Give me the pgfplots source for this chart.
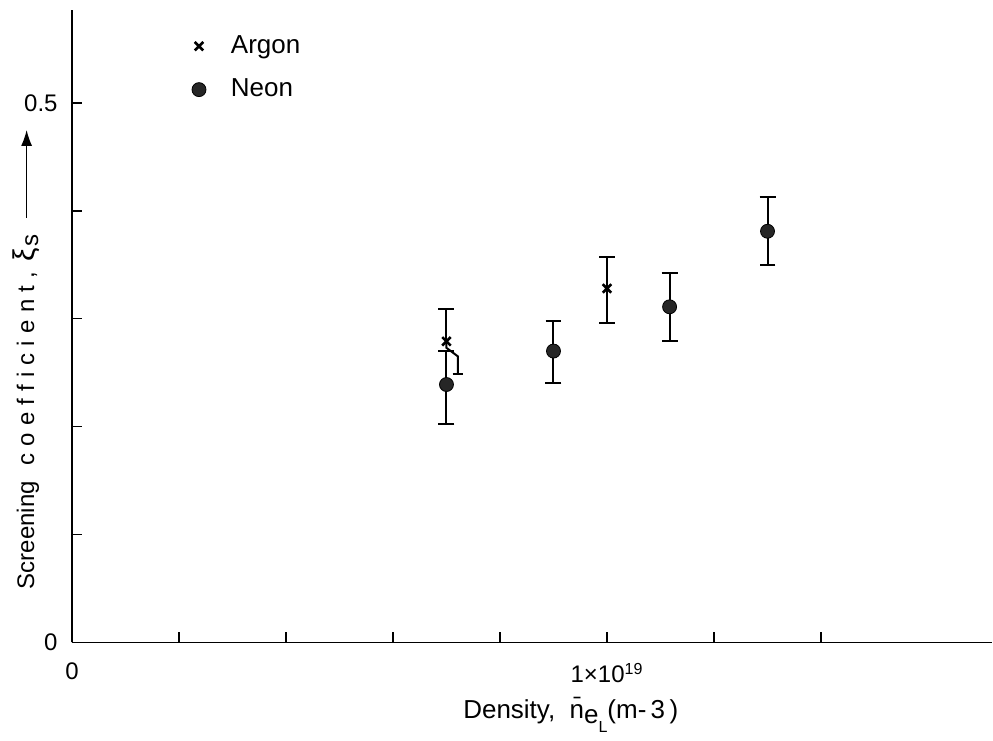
\documentclass[border=0pt]{standalone}
\usepackage{fontspec}
\setmainfont{Liberation Sans}
\usepackage{pgfplots}
\pgfplotsset{compat=1.18}
\usetikzlibrary{arrows.meta}

\begin{document}
\fontsize{12}{14}\selectfont
\begin{tikzpicture}
\begin{axis}[
  scale only axis, width=460.5pt, height=316.5pt,
  xmin=0, xmax=1.72, ymin=0, ymax=0.586,
  axis lines=left, axis line style={-, line width=0.8pt},
  tick align=inside, major tick length=5pt,
  tick style={line width=0.8pt, black},
  xtick={0,0.2,0.4,0.6,0.8,1.0,1.2,1.4},
  xticklabels={0,,,,,1×10\textsuperscript{19},,},
  ytick={0,0.1,0.2,0.3,0.4,0.5},
  yticklabels={0,,,,,0.5},
  xticklabel style={yshift=-6pt},
  yticklabel style={xshift=-3pt},
  /pgf/number format/assume math mode=true,
  ticklabel style={font=\fontsize{12}{14}\selectfont},
  label style={font=\fontsize{13}{15}\selectfont},
  xlabel={Density,\ \ \=n\raisebox{-0.35ex}{e}\raisebox{-1ex}{\footnotesize L}(m-\,3\,)},
  xlabel style={at={(axis description cs:0.542,-0.114)}, anchor=center},
  ylabel={\fontsize{12}{14}\selectfont Screening\hspace{8pt}{\addfontfeature{LetterSpace=30}coefficient,}\hspace{5pt}{\fontsize{15}{16}\selectfont ξ}\hspace{1pt}\raisebox{-0.3ex}{s}\hspace{8pt}\tikz[baseline=-0.6ex]\draw[-{Latex[length=8pt,width=5.5pt]}, line width=0.6pt] (0,0)--(44pt,0);},
  ylabel style={at={(axis description cs:-0.05,0.071)}, anchor=west},
  legend style={draw=none, fill=none, at={(axis description cs:0.1235,0.973)}, anchor=north west,
    row sep=7pt, column sep=10.5pt, font=\fontsize{13}{15}\selectfont},
  legend cell align=left,
  clip=false,
]
% Argon
\addplot[only marks, mark=x, mark size=3pt, line width=1.3pt, black,
  error bars/.cd, y dir=both, y explicit,
  error bar style={line width=1pt},
  error mark options={rotate=90, mark size=4pt, line width=1pt}]
  coordinates {(1.00,0.328) += (0,0.029) -= (0,0.032)};
\addlegendentry{Argon}
% Neon
\addplot[only marks, mark=*, mark size=3.5pt, black, fill=black!85,
  error bars/.cd, y dir=both, y explicit,
  error bar style={line width=1pt},
  error mark options={rotate=90, mark size=4pt, line width=1pt}]
  coordinates {
    (0.700,0.239) += (0,0.031) -= (0,0.037)
    (0.900,0.270) += (0,0.028) -= (0,0.030)
    (1.117,0.311) += (0,0.031) -= (0,0.032)
    (1.300,0.381) += (0,0.032) -= (0,0.031)
  };
\addlegendentry{Neon}
% Argon point at 0.7: upper bar only, lower bar shifted aside
\addplot[forget plot, only marks, mark=x, mark size=3pt, line width=1.3pt, black,
  error bars/.cd, y dir=plus, y explicit,
  error bar style={line width=1pt},
  error mark options={rotate=90, mark size=4pt, line width=1pt}]
  coordinates {(0.700,0.279) += (0,0.030)};
\addplot[forget plot, black, line width=1pt]
  coordinates {(0.700,0.279) (0.700,0.273) (0.7215,0.265) (0.7215,0.249)};
\addplot[forget plot, black, line width=1pt]
  coordinates {(0.7115,0.249) (0.7315,0.249)};
% keep the page the size of the reference
\path (rel axis cs:-0.0782,-0.1485) rectangle (rel axis cs:1,1.0158);
\end{axis}
\end{tikzpicture}
\end{document}
